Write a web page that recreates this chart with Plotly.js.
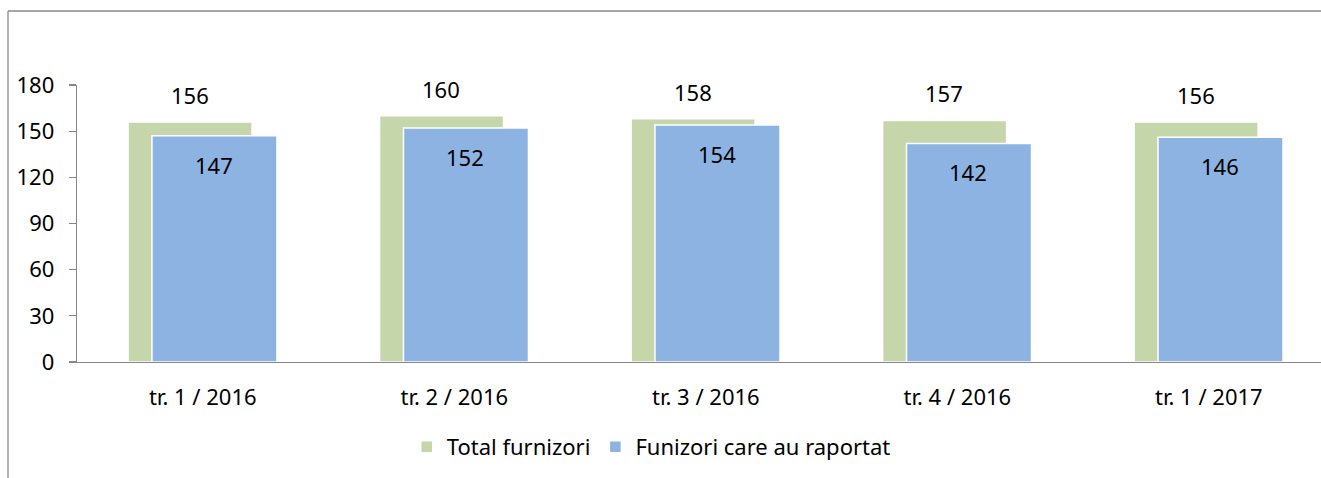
<!DOCTYPE html>
<html>
<head>
<meta charset="utf-8">
<script src="https://cdn.plot.ly/plotly-3.0.1.min.js"></script>
<style>
html,body{margin:0;padding:0;background:#fff;}
#chart{width:1321px;height:478px;}
</style>
</head>
<body>
<div id="chart"></div>
<script>
const categories = ["tr. 1 / 2016", "tr. 2 / 2016", "tr. 3 / 2016", "tr. 4 / 2016", "tr. 1 / 2017"];
const totalFurnizori = [156, 160, 158, 157, 156];
const raportat = [147, 152, 154, 142, 146];
const seriesNames = ["Total furnizori", "Funizori care au raportat"];
const yTicks = [0, 30, 60, 90, 120, 150, 180];

const FONT = "Noto Sans, Open Sans, sans-serif";
const FS = 22;
const GREEN = "#c5d6ab";
const BLUE = "#8db3e2";
const AXIS = "#868686";

const traces = [
  {
    type: "bar", name: seriesNames[0], x: categories, y: totalFurnizori,
    offset: -0.297, width: 0.493,
    marker: {color: GREEN, line: {color: "#ffffff", width: 1.5}},
    hoverinfo: "skip"
  },
  {
    type: "bar", name: seriesNames[1], x: categories, y: raportat,
    offset: -0.202, width: 0.497,
    marker: {color: BLUE, line: {color: "#ffffff", width: 1.5}},
    hoverinfo: "skip"
  }
];

const annotations = [];
categories.forEach((c, i) => {
  annotations.push({x: c, y: totalFurnizori[i], xref: "x", yref: "y", text: String(totalFurnizori[i]),
    showarrow: false, xshift: -13, yshift: 27, yanchor: "middle",
    font: {family: FONT, size: FS, color: "#000"}});
  annotations.push({x: c, y: raportat[i], xref: "x", yref: "y", text: String(raportat[i]),
    showarrow: false, xshift: 11, yshift: -29, yanchor: "middle",
    font: {family: FONT, size: FS, color: "#000"}});
});

const layout = {
  width: 1321, height: 478,
  margin: {l: 77, r: 0, t: 85, b: 116, pad: 0},
  paper_bgcolor: "#fff", plot_bgcolor: "#fff",
  barmode: "overlay",
  showlegend: true,
  font: {family: FONT, size: FS, color: "#000"},
  xaxis: {
    type: "category", range: [-0.5, 4.446], fixedrange: true,
    showline: true, linecolor: AXIS, linewidth: 1.3,
    ticks: "", showgrid: false, zeroline: false,
    ticklabelstandoff: 15,
    tickfont: {family: FONT, size: FS, color: "#000"}
  },
  yaxis: {
    range: [0, 180], tickvals: yTicks, ticktext: yTicks.map(String),
    showline: true, linecolor: AXIS, linewidth: 1.3,
    ticks: "outside", ticklen: 7, tickcolor: AXIS, tickwidth: 1.3,
    ticklabelstandoff: 10,
    showgrid: false, zeroline: false,
    tickfont: {family: FONT, size: FS, color: "#000"}
  },
  legend: {
    orientation: "h", xref: "container", yref: "container",
    x: 0.493, xanchor: "center", y: 0.065, yanchor: "middle",
    font: {family: FONT, size: FS, color: "#000"},
    itemwidth: 30, tracegroupgap: 0, traceorder: "normal",
    bgcolor: "rgba(0,0,0,0)"
  },
  annotations: annotations,
  shapes: [
    {type: "line", xref: "paper", yref: "paper",
     x0: (8 - 77) / 1244, x1: (8 - 77) / 1244, y0: -1, y1: (362 - 11) / 277,
     line: {color: "#8a8a8a", width: 1.3}, layer: "below"},
    {type: "line", xref: "paper", yref: "paper",
     x0: (8 - 77) / 1244, x1: 1.2, y0: (362 - 11) / 277, y1: (362 - 11) / 277,
     line: {color: "#8a8a8a", width: 1.3}, layer: "below"}
  ]
};

Plotly.newPlot("chart", traces, layout, {displayModeBar: false, staticPlot: true});
</script>
</body>
</html>
